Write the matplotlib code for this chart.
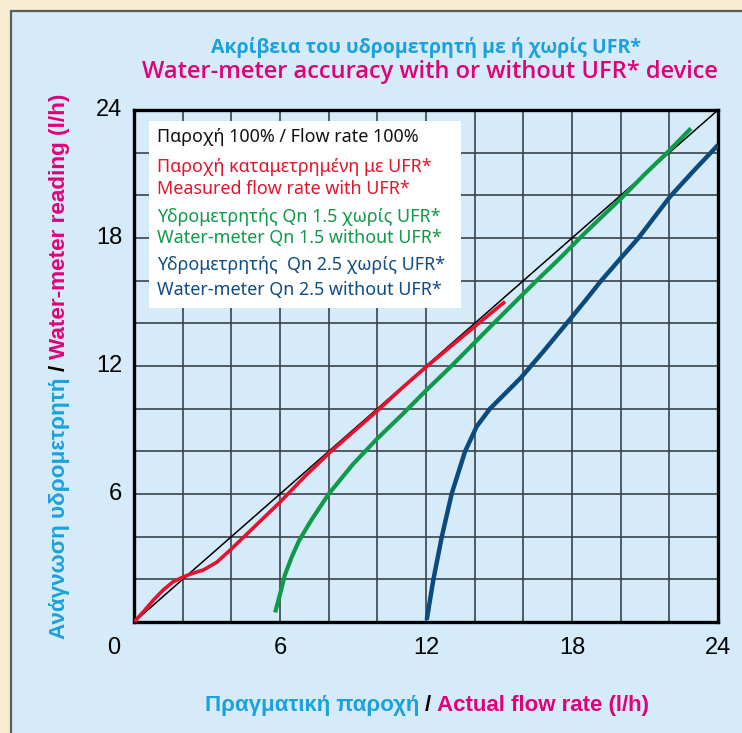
import matplotlib
matplotlib.use("Agg")
import matplotlib.pyplot as plt
from matplotlib import font_manager
from matplotlib.patches import Rectangle
from matplotlib.transforms import IdentityTransform, offset_copy

# ---- data (l/h) ----
ideal_x = [0, 24]
ideal_y = [0, 24]

ufr_x = [0, 0.4, 0.8, 1.2, 1.6, 2.0, 2.4, 2.85, 3.4, 3.95, 4.6, 5.3, 6.0, 7.0, 8.0, 9.0,
         10.0, 11.0, 12.0, 13.0, 14.0, 15.25]
ufr_y = [0, 0.5, 1.03, 1.5, 1.88, 2.1, 2.28, 2.44, 2.8, 3.37, 4.08, 4.85, 5.62, 6.8, 7.9, 8.9,
         9.9, 10.95, 11.95, 12.9, 13.85, 15.02]

qn15_x = [5.8, 6.0, 6.2, 6.5, 6.8, 7.3, 8.0, 9.0, 10.0, 11.0, 12.0, 13.0, 14.0, 15.0,
          15.66, 16.5, 17.5, 18.5, 20.1, 21.0, 22.0, 22.89]
qn15_y = [0.45, 1.3, 2.2, 3.1, 3.85, 4.8, 6.0, 7.4, 8.6, 9.7, 10.85, 11.95, 13.1, 14.25,
          15.0, 15.95, 17.05, 18.2, 19.95, 21.0, 22.1, 23.14]

qn25_x = [12.03, 12.3, 12.65, 13.06, 13.6, 14.08, 14.63, 15.2, 15.9, 16.8, 17.78, 18.5,
          19.2, 20.0, 20.73, 21.4, 22.03, 23.0, 24.0]
qn25_y = [0.1, 1.97, 4.0, 6.03, 7.98, 9.16, 10.0, 10.65, 11.45, 12.65, 14.0, 15.0,
          16.0, 17.05, 18.0, 19.0, 19.94, 21.15, 22.36]

tick_values = [6, 12, 18, 24]
tick_labels = ["6", "12", "18", "24"]

title_gr = "Ακρίβεια του υδρομετρητή με ή χωρίς UFR*"
title_en = "Water-meter accuracy with or without UFR* device"
xlabel_parts = ["Πραγματική παροχή", "/", "Actual flow rate (l/h)"]
ylabel_parts = ["Ανάγνωση υδρομετρητή", "/", "Water-meter reading (l/h)"]
legend_lines = [
    "Παροχή 100% / Flow rate 100%",
    "Παροχή καταμετρημένη με UFR*",
    "Measured flow rate with UFR*",
    "Υδρομετρητής Qn 1.5 χωρίς UFR*",
    "Water-meter Qn 1.5 without UFR*",
    "Υδρομετρητής  Qn 2.5 χωρίς UFR*",
    "Water-meter Qn 2.5 without UFR*",
]

# ---- style ----
CYAN = "#1ba1db"
MAGENTA = "#e2007a"
RED = "#e8112d"
GREEN = "#0e9a48"
BLUE = "#0b4a7c"
PANEL = "#d5ebf9"
BEIGE = "#f8edd3"
legend_colors = ["#111111", "#e4142c", "#e4142c", "#0f9a48", "#0f9a48", "#0f4c84", "#0f4c84"]

available = {f.name for f in font_manager.fontManager.ttflist}


def pick(*names):
    for n in names:
        if n in available:
            return n
    return "DejaVu Sans"


TITLE_FONT = pick("Open Sans", "Noto Sans")
LEGEND_FONT = pick("Noto Sans", "Open Sans")
LABEL_FONT = pick("Liberation Sans", "DejaVu Sans")

W, H, DPI = 742, 733, 100
fig = plt.figure(figsize=(W / DPI, H / DPI), dpi=DPI, facecolor=BEIGE)

# blue panel with dark frame, behind everything
fig.patches.append(Rectangle((11 / W, -0.05), 1.1, 1 - 11 / H + 0.05, transform=fig.transFigure,
                             facecolor=PANEL, edgecolor="#5c5c5c", linewidth=1.6, zorder=-10))

ax = fig.add_axes([134 / W, 1 - 622 / H, 584 / W, 512 / H])
ax.set_facecolor(PANEL)
ax.set_xlim(0, 24)
ax.set_ylim(0, 24)
ax.set_xticks(range(0, 25, 2))
ax.set_yticks(range(0, 25, 2))
ax.grid(True, color="#39424a", linewidth=1.2)
ax.set_axisbelow(True)
ax.tick_params(length=0, labelbottom=False, labelleft=False)
for s in ax.spines.values():
    s.set_linewidth(2.4)
    s.set_color("black")

# tick labels at every 6 l/h
tick_size = 17
for v, lab in zip(tick_values, tick_labels):
    ax.text(v, 0, lab, transform=offset_copy(ax.transData, fig, x=0, y=-26, units="dots"),
            ha="center", va="center", fontsize=tick_size, family=LABEL_FONT)
    ax.text(0, v, lab, transform=offset_copy(ax.transData, fig, x=-12, y=0, units="dots"),
            ha="right", va="center", fontsize=tick_size, family=LABEL_FONT)
ax.text(0, 0, "0", transform=offset_copy(ax.transData, fig, x=-20, y=-26, units="dots"),
        ha="center", va="center", fontsize=tick_size, family=LABEL_FONT)

# curves
line_kw = dict(solid_capstyle="butt", solid_joinstyle="round", zorder=4)
ax.plot(ideal_x, ideal_y, color="black", linewidth=1.1, zorder=3)
ax.plot(ufr_x, ufr_y, color=RED, linewidth=2.6, **line_kw)
ax.plot(qn15_x, qn15_y, color=GREEN, linewidth=3.0, **line_kw)
ax.plot(qn25_x, qn25_y, color=BLUE, linewidth=3.2, **line_kw)

# legend panel
ax.add_patch(Rectangle((15 / 584, (622 - 308) / 512), 312 / 584, 187 / 512,
                       transform=ax.transAxes, facecolor="white", edgecolor="none", zorder=5))
legend_y = [137, 167, 189, 217, 238, 265, 290]
for txt, col, py in zip(legend_lines, legend_colors, legend_y):
    ax.text(23 / 584, (622 - py) / 512, txt, transform=ax.transAxes, color=col,
            fontsize=12.9, family=LEGEND_FONT, ha="left", va="center", zorder=6)

# ---- titles and multi-coloured axis labels (pixel positions, origin top-left) ----
ident = IdentityTransform()


def fig_text(x, y, s, **kw):
    return fig.text(x, H - y, s, transform=ident, **kw)


fig_text(426, 47, title_gr, color=CYAN, fontsize=14.0, family=TITLE_FONT,
         weight="bold", ha="center", va="center")
fig_text(430, 72, title_en, color=MAGENTA, fontsize=17.0, family=TITLE_FONT,
         weight="semibold", ha="center", va="center")

fig.canvas.draw()
renderer = fig.canvas.get_renderer()


def segmented(parts, colors, cx, cy, size, vertical=False):
    kw = dict(fontsize=size, family=LABEL_FONT, weight="bold")
    probe1 = fig.text(0, 0, "a a", **kw)
    probe2 = fig.text(0, 0, "aa", **kw)
    gap = probe1.get_window_extent(renderer).width - probe2.get_window_extent(renderer).width
    probe1.remove()
    probe2.remove()
    objs, lengths = [], []
    for s, c in zip(parts, colors):
        t = fig.text(0, 0, s, color=c, transform=ident, rotation=90 if vertical else 0,
                     rotation_mode="anchor", ha="left", va="baseline", **kw)
        bb = t.get_window_extent(renderer)
        lengths.append(bb.height if vertical else bb.width)
        objs.append(t)
    total = sum(lengths) + gap * (len(parts) - 1)
    cap = size * 0.72 * DPI / 72
    pos = -total / 2
    for t, L in zip(objs, lengths):
        if vertical:
            t.set_position((cx + cap / 2, (H - cy) + pos))
        else:
            t.set_position((cx + pos, (H - cy) - cap / 2))
        pos += L + gap


segmented(xlabel_parts, [CYAN, "black", MAGENTA], 427, 703, 16)
segmented(ylabel_parts, [CYAN, "black", MAGENTA], 57, 366, 16.2, vertical=True)

fig.savefig("out.png", dpi=DPI, facecolor=BEIGE)
